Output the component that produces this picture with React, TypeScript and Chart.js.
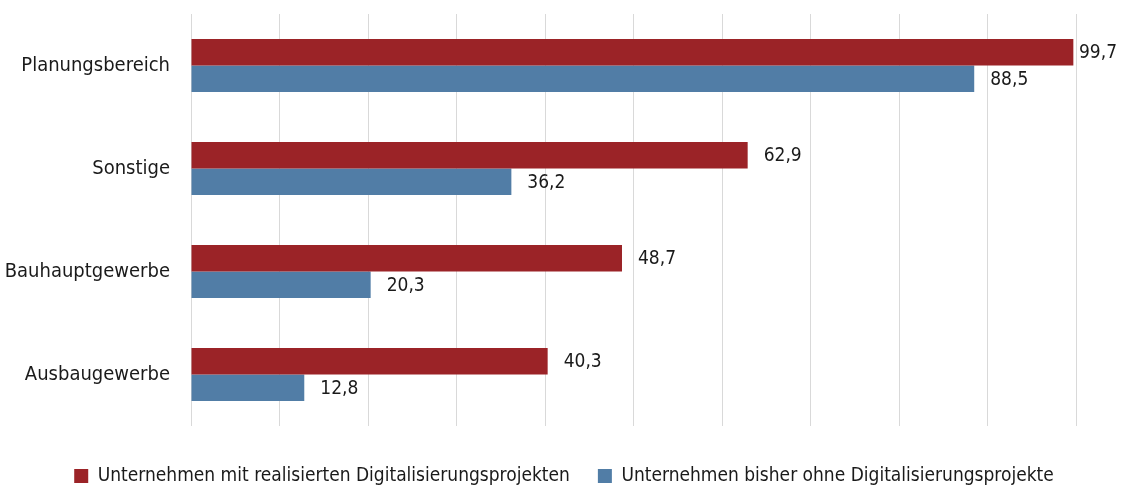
import React, { useEffect, useRef } from "react";
import { Chart, registerables } from "chart.js";

Chart.register(...registerables);

const categories = ["Planungsbereich", "Sonstige", "Bauhauptgewerbe", "Ausbaugewerbe"];
const seriesNames = [
  "Unternehmen mit realisierten Digitalisierungsprojekten",
  "Unternehmen bisher ohne Digitalisierungsprojekte",
];
const withProjects = [99.7, 62.9, 48.7, 40.3];
const withoutProjects = [88.5, 36.2, 20.3, 12.8];
const axisMin = 0;
const axisMax = 100;
const axisStep = 10;

const FONT = "'Liberation Sans Narrow', 'Arial Narrow', 'DejaVu Sans Condensed', sans-serif";
const RED = "#9b2327";
const BLUE = "#517da6";

const labelPlugin = {
  id: "barValueLabels",
  afterDatasetsDraw(chart: any) {
    const ctx = chart.ctx;
    ctx.save();
    ctx.font = `19px ${FONT}`;
    ctx.fillStyle = "#1a1a1a";
    ctx.textAlign = "left";
    ctx.textBaseline = "middle";
    chart.data.datasets.forEach((ds: any, di: number) => {
      const meta = chart.getDatasetMeta(di);
      meta.data.forEach((el: any, i: number) => {
        const v = ds.data[i] as number;
        const text = v.toFixed(1).replace(".", ",");
        const w = ctx.measureText(text).width;
        const x = Math.min(el.x + 16, chart.width - w - 5);
        ctx.fillText(text, x, el.y + 1);
      });
    });
    ctx.restore();
  },
};

const legendShiftPlugin = {
  id: "legendShift",
  afterLayout(chart: any) {
    const lg = chart.legend;
    if (lg) {
      lg.left += 26;
      lg.right += 26;
    }
  },
};

export default function App() {
  const canvasRef = useRef<HTMLCanvasElement | null>(null);

  useEffect(() => {
    document.body.style.margin = "0";
    const canvas = canvasRef.current;
    if (!canvas) return;
    const chart = new Chart(canvas, {
      type: "bar",
      data: {
        labels: categories,
        datasets: [
          {
            label: seriesNames[0],
            data: withProjects,
            backgroundColor: RED,
            borderWidth: 0,
            categoryPercentage: 0.515,
            barPercentage: 1,
          },
          {
            label: seriesNames[1],
            data: withoutProjects,
            backgroundColor: BLUE,
            borderWidth: 0,
            categoryPercentage: 0.515,
            barPercentage: 1,
          },
        ],
      },
      options: {
        indexAxis: "y",
        responsive: false,
        animation: false,
        layout: { padding: { top: 14, right: 46, left: 0, bottom: -9.5 } },
        scales: {
          x: {
            min: axisMin,
            max: axisMax,
            ticks: { display: false, stepSize: axisStep },
            grid: { color: "#d9d9d9", lineWidth: 1, drawTicks: false },
            border: { display: false },
            afterFit: (s: any) => {
              s.height = 12.5;
            },
          },
          y: {
            ticks: {
              color: "#1a1a1a",
              font: { family: FONT, size: 20 },
              padding: 0,
            },
            grid: { display: false, drawTicks: true, tickLength: 21 },
            border: { display: false },
            afterFit: (s: any) => {
              s.width = 191;
            },
          },
        },
        plugins: {
          legend: {
            position: "bottom",
            labels: {
              font: { family: FONT, size: 19 },
              color: "#1a1a1a",
              boxWidth: 14,
              boxHeight: 14,
              padding: 28,
            },
          },
          tooltip: { enabled: false },
        },
      },
      plugins: [labelPlugin, legendShiftPlugin],
    } as any);
    return () => chart.destroy();
  }, []);

  return (
    <div style={{ width: 1122, height: 486 }}>
      <canvas ref={canvasRef} width={1122} height={486} style={{ display: "block" }} />
    </div>
  );
}
